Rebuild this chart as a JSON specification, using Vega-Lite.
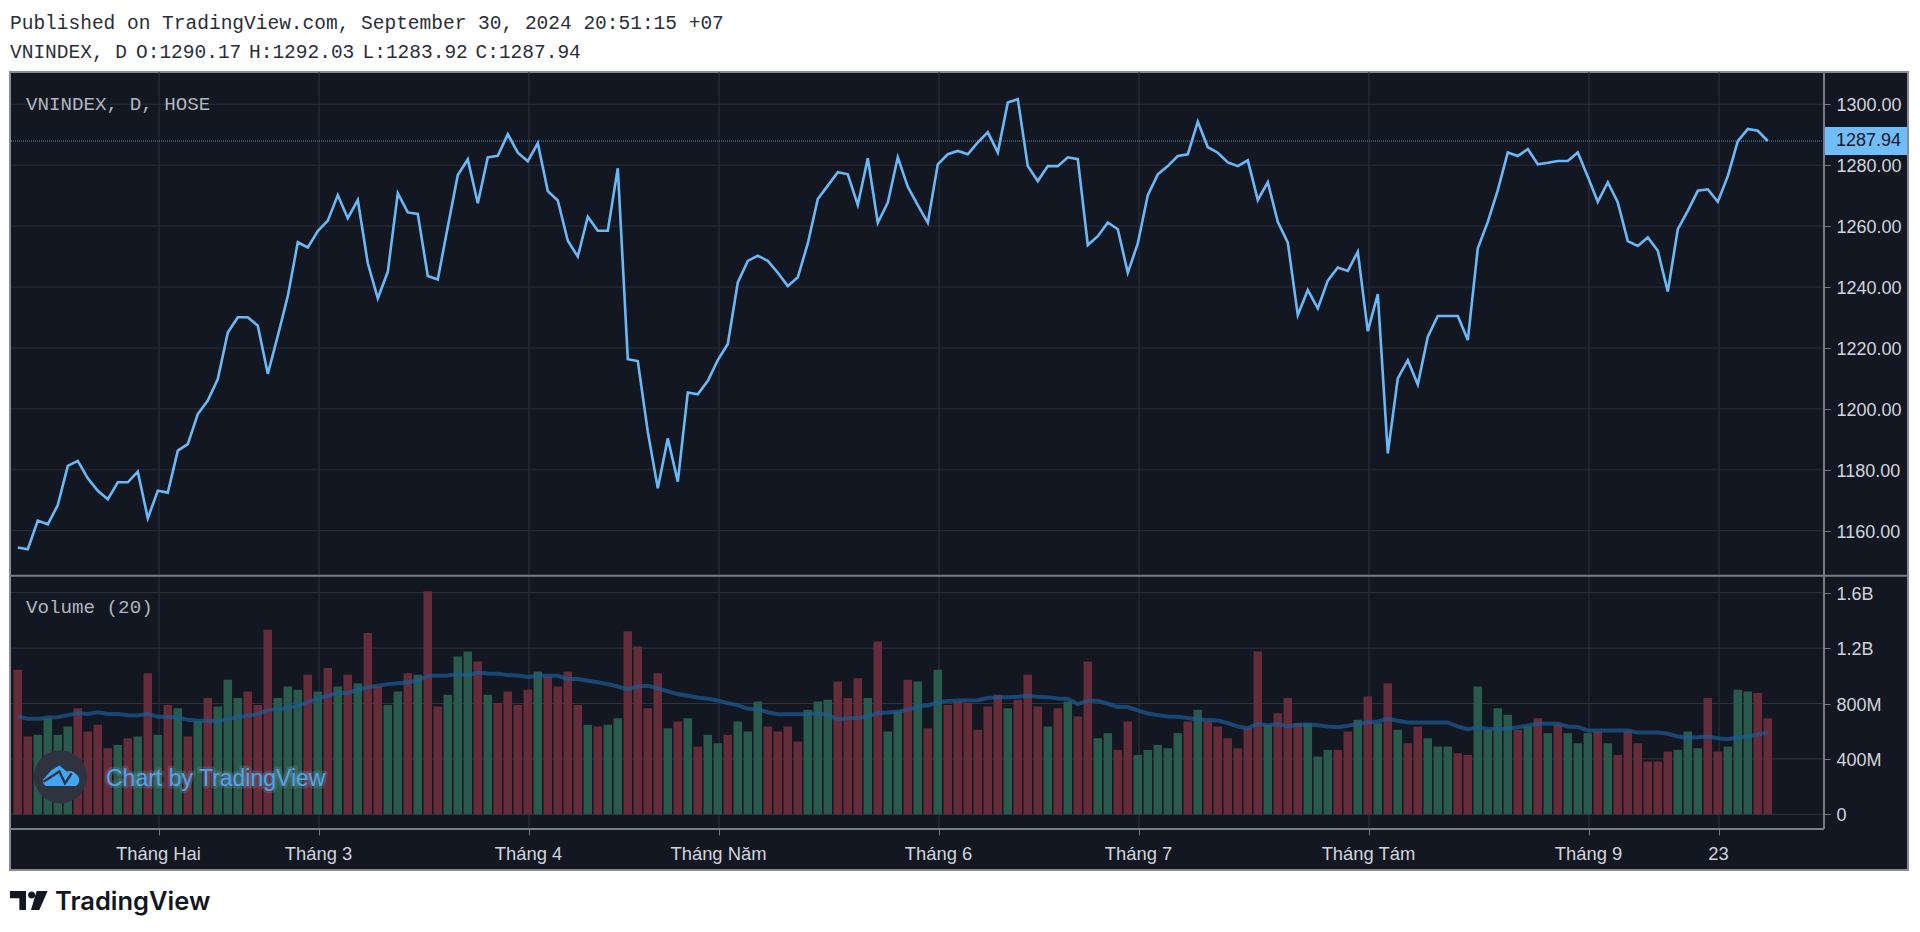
{"$schema":"https://vega.github.io/schema/vega-lite/v6.json","width":1920,"height":932,"autosize":{"type":"none"},"padding":0,"background":"#ffffff",
"datasets":{
"one":[{}],
"months":[{"i":14,"label":"Tháng Hai"},{"i":30,"label":"Tháng 3"},{"i":51,"label":"Tháng 4"},{"i":70,"label":"Tháng Năm"},{"i":92,"label":"Tháng 6"},{"i":112,"label":"Tháng 7"},{"i":135,"label":"Tháng Tám"},{"i":157,"label":"Tháng 9"},{"i":170,"label":"23"}],
"pgrid":[{"p":1160},{"p":1180},{"p":1200},{"p":1220},{"p":1240},{"p":1260},{"p":1280},{"p":1300}],
"vgrid":[{"v":0},{"v":400},{"v":800},{"v":1200},{"v":1600}],
"last":[{"p":1287.94,"t":"1287.94"}],
"rows":[
{"i":0,"close":1154.5,"vol":1044,"ma":706,"d":"down"},{"i":1,"close":1153.9,"vol":562,"ma":689,"d":"down"},{"i":2,"close":1163.3,"vol":574,"ma":689,"d":"up"},{"i":3,"close":1162.1,"vol":694,"ma":699,"d":"up"},{"i":4,"close":1168.4,"vol":574,"ma":701,"d":"up"},{"i":5,"close":1181.3,"vol":634,"ma":716,"d":"up"},{"i":6,"close":1182.9,"vol":766,"ma":730,"d":"down"},{"i":7,"close":1177.2,"vol":598,"ma":725,"d":"down"},{"i":8,"close":1173.1,"vol":646,"ma":737,"d":"down"},{"i":9,"close":1170.3,"vol":477,"ma":725,"d":"down"},
{"i":10,"close":1175.9,"vol":501,"ma":725,"d":"up"},{"i":11,"close":1175.9,"vol":549,"ma":716,"d":"down"},{"i":12,"close":1179.4,"vol":562,"ma":713,"d":"up"},{"i":13,"close":1164.1,"vol":1019,"ma":725,"d":"down"},{"i":14,"close":1173.1,"vol":574,"ma":704,"d":"up"},{"i":15,"close":1172.5,"vol":790,"ma":704,"d":"down"},{"i":16,"close":1186.3,"vol":766,"ma":699,"d":"up"},{"i":17,"close":1188.4,"vol":562,"ma":682,"d":"down"},{"i":18,"close":1198.3,"vol":670,"ma":675,"d":"up"},{"i":19,"close":1202.7,"vol":839,"ma":675,"d":"down"},
{"i":20,"close":1209.8,"vol":778,"ma":670,"d":"up"},{"i":21,"close":1225.1,"vol":971,"ma":689,"d":"up"},{"i":22,"close":1230.1,"vol":839,"ma":701,"d":"up"},{"i":23,"close":1230.1,"vol":887,"ma":711,"d":"down"},{"i":24,"close":1227.3,"vol":790,"ma":723,"d":"down"},{"i":25,"close":1211.5,"vol":1333,"ma":754,"d":"down"},{"i":26,"close":1224,"vol":839,"ma":759,"d":"up"},{"i":27,"close":1237,"vol":923,"ma":771,"d":"up"},{"i":28,"close":1254.7,"vol":899,"ma":783,"d":"up"},{"i":29,"close":1253,"vol":1007,"ma":810,"d":"down"},
{"i":30,"close":1258.4,"vol":887,"ma":834,"d":"up"},{"i":31,"close":1261.8,"vol":1056,"ma":856,"d":"down"},{"i":32,"close":1270.2,"vol":923,"ma":880,"d":"up"},{"i":33,"close":1262.6,"vol":1007,"ma":875,"d":"down"},{"i":34,"close":1268.6,"vol":947,"ma":899,"d":"up"},{"i":35,"close":1247.8,"vol":1309,"ma":918,"d":"down"},{"i":36,"close":1236.3,"vol":923,"ma":928,"d":"down"},{"i":37,"close":1245,"vol":790,"ma":940,"d":"up"},{"i":38,"close":1270.8,"vol":887,"ma":947,"d":"up"},{"i":39,"close":1264.5,"vol":1019,"ma":952,"d":"down"},
{"i":40,"close":1264,"vol":1007,"ma":966,"d":"up"},{"i":41,"close":1243.6,"vol":1610,"ma":1000,"d":"down"},{"i":42,"close":1242.5,"vol":778,"ma":1000,"d":"down"},{"i":43,"close":1259.8,"vol":863,"ma":1003,"d":"up"},{"i":44,"close":1276.8,"vol":1140,"ma":1012,"d":"up"},{"i":45,"close":1281.9,"vol":1176,"ma":1005,"d":"up"},{"i":46,"close":1267.5,"vol":1104,"ma":1024,"d":"down"},{"i":47,"close":1282.6,"vol":863,"ma":1017,"d":"up"},{"i":48,"close":1283.1,"vol":803,"ma":1015,"d":"down"},{"i":49,"close":1290.2,"vol":887,"ma":1005,"d":"down"},
{"i":50,"close":1284.1,"vol":790,"ma":1003,"d":"down"},{"i":51,"close":1281.3,"vol":899,"ma":991,"d":"down"},{"i":52,"close":1287.2,"vol":1031,"ma":1000,"d":"up"},{"i":53,"close":1271.5,"vol":995,"ma":1000,"d":"down"},{"i":54,"close":1268.4,"vol":923,"ma":1000,"d":"down"},{"i":55,"close":1255.2,"vol":1031,"ma":976,"d":"down"},{"i":56,"close":1250,"vol":790,"ma":976,"d":"down"},{"i":57,"close":1263.1,"vol":646,"ma":964,"d":"up"},{"i":58,"close":1258.5,"vol":634,"ma":954,"d":"down"},{"i":59,"close":1258.5,"vol":646,"ma":940,"d":"up"},
{"i":60,"close":1279,"vol":694,"ma":923,"d":"up"},{"i":61,"close":1216.3,"vol":1321,"ma":904,"d":"down"},{"i":62,"close":1215.7,"vol":1212,"ma":923,"d":"down"},{"i":63,"close":1192.5,"vol":766,"ma":928,"d":"down"},{"i":64,"close":1173.9,"vol":1019,"ma":911,"d":"down"},{"i":65,"close":1190.3,"vol":622,"ma":887,"d":"up"},{"i":66,"close":1176.1,"vol":670,"ma":868,"d":"down"},{"i":67,"close":1205.4,"vol":694,"ma":856,"d":"up"},{"i":68,"close":1204.8,"vol":489,"ma":844,"d":"down"},{"i":69,"close":1209.2,"vol":574,"ma":834,"d":"up"},
{"i":70,"close":1216,"vol":513,"ma":822,"d":"up"},{"i":71,"close":1221.3,"vol":574,"ma":803,"d":"down"},{"i":72,"close":1241.5,"vol":670,"ma":788,"d":"up"},{"i":73,"close":1248.6,"vol":598,"ma":762,"d":"up"},{"i":74,"close":1250.3,"vol":815,"ma":759,"d":"up"},{"i":75,"close":1248.6,"vol":634,"ma":737,"d":"down"},{"i":76,"close":1244.7,"vol":598,"ma":723,"d":"down"},{"i":77,"close":1240.3,"vol":634,"ma":723,"d":"down"},{"i":78,"close":1243.2,"vol":525,"ma":723,"d":"down"},{"i":79,"close":1254.3,"vol":754,"ma":725,"d":"up"},
{"i":80,"close":1268.9,"vol":815,"ma":730,"d":"up"},{"i":81,"close":1273.3,"vol":827,"ma":718,"d":"up"},{"i":82,"close":1277.7,"vol":959,"ma":687,"d":"down"},{"i":83,"close":1277,"vol":839,"ma":694,"d":"down"},{"i":84,"close":1266.9,"vol":983,"ma":696,"d":"down"},{"i":85,"close":1282.3,"vol":839,"ma":706,"d":"up"},{"i":86,"close":1261.1,"vol":1248,"ma":730,"d":"down"},{"i":87,"close":1267.7,"vol":598,"ma":735,"d":"up"},{"i":88,"close":1282.6,"vol":742,"ma":742,"d":"up"},{"i":89,"close":1272.9,"vol":971,"ma":754,"d":"down"},
{"i":90,"close":1266.9,"vol":959,"ma":778,"d":"up"},{"i":91,"close":1261.1,"vol":622,"ma":786,"d":"down"},{"i":92,"close":1280.3,"vol":1044,"ma":807,"d":"up"},{"i":93,"close":1283.6,"vol":790,"ma":819,"d":"down"},{"i":94,"close":1284.7,"vol":815,"ma":822,"d":"down"},{"i":95,"close":1283.6,"vol":803,"ma":822,"d":"down"},{"i":96,"close":1287.5,"vol":610,"ma":824,"d":"down"},{"i":97,"close":1290.8,"vol":778,"ma":839,"d":"down"},{"i":98,"close":1284.2,"vol":863,"ma":846,"d":"down"},{"i":99,"close":1300.6,"vol":766,"ma":846,"d":"up"},
{"i":100,"close":1301.7,"vol":827,"ma":848,"d":"down"},{"i":101,"close":1279.7,"vol":1007,"ma":856,"d":"down"},{"i":102,"close":1274.8,"vol":778,"ma":848,"d":"down"},{"i":103,"close":1279.7,"vol":634,"ma":846,"d":"up"},{"i":104,"close":1279.7,"vol":766,"ma":836,"d":"down"},{"i":105,"close":1282.6,"vol":815,"ma":834,"d":"up"},{"i":106,"close":1282,"vol":706,"ma":795,"d":"down"},{"i":107,"close":1253.8,"vol":1104,"ma":819,"d":"down"},{"i":108,"close":1256.7,"vol":549,"ma":819,"d":"up"},{"i":109,"close":1261.2,"vol":586,"ma":798,"d":"up"},
{"i":110,"close":1259,"vol":465,"ma":774,"d":"down"},{"i":111,"close":1244.7,"vol":670,"ma":774,"d":"down"},{"i":112,"close":1254.3,"vol":429,"ma":750,"d":"up"},{"i":113,"close":1270.2,"vol":465,"ma":728,"d":"up"},{"i":114,"close":1277,"vol":501,"ma":716,"d":"up"},{"i":115,"close":1279.7,"vol":477,"ma":706,"d":"up"},{"i":116,"close":1283,"vol":586,"ma":704,"d":"up"},{"i":117,"close":1283.6,"vol":670,"ma":696,"d":"down"},{"i":118,"close":1294.3,"vol":754,"ma":687,"d":"up"},{"i":119,"close":1285.9,"vol":670,"ma":680,"d":"down"},
{"i":120,"close":1284.1,"vol":634,"ma":677,"d":"down"},{"i":121,"close":1280.9,"vol":549,"ma":658,"d":"down"},{"i":122,"close":1279.7,"vol":477,"ma":634,"d":"down"},{"i":123,"close":1281.6,"vol":622,"ma":622,"d":"down"},{"i":124,"close":1268.6,"vol":1176,"ma":653,"d":"down"},{"i":125,"close":1274.4,"vol":646,"ma":643,"d":"up"},{"i":126,"close":1261.4,"vol":730,"ma":651,"d":"down"},{"i":127,"close":1254.6,"vol":839,"ma":634,"d":"down"},{"i":128,"close":1230.8,"vol":658,"ma":646,"d":"down"},{"i":129,"close":1239,"vol":658,"ma":648,"d":"up"},
{"i":130,"close":1233,"vol":417,"ma":643,"d":"up"},{"i":131,"close":1242.1,"vol":465,"ma":634,"d":"up"},{"i":132,"close":1246.4,"vol":465,"ma":629,"d":"down"},{"i":133,"close":1245.3,"vol":598,"ma":639,"d":"down"},{"i":134,"close":1251.6,"vol":682,"ma":653,"d":"up"},{"i":135,"close":1225.5,"vol":851,"ma":663,"d":"down"},{"i":136,"close":1237.7,"vol":658,"ma":670,"d":"up"},{"i":137,"close":1185.4,"vol":947,"ma":689,"d":"down"},{"i":138,"close":1210,"vol":610,"ma":675,"d":"up"},{"i":139,"close":1216,"vol":513,"ma":663,"d":"down"},
{"i":140,"close":1208,"vol":634,"ma":663,"d":"down"},{"i":141,"close":1223.7,"vol":549,"ma":663,"d":"up"},{"i":142,"close":1230.5,"vol":489,"ma":663,"d":"up"},{"i":143,"close":1230.5,"vol":489,"ma":663,"d":"up"},{"i":144,"close":1230.5,"vol":441,"ma":634,"d":"down"},{"i":145,"close":1222.6,"vol":429,"ma":615,"d":"down"},{"i":146,"close":1252.7,"vol":923,"ma":627,"d":"up"},{"i":147,"close":1261.4,"vol":610,"ma":617,"d":"up"},{"i":148,"close":1271.8,"vol":766,"ma":615,"d":"up"},{"i":149,"close":1284.2,"vol":718,"ma":617,"d":"up"},
{"i":150,"close":1283,"vol":610,"ma":629,"d":"down"},{"i":151,"close":1285.3,"vol":634,"ma":641,"d":"up"},{"i":152,"close":1280.3,"vol":694,"ma":653,"d":"down"},{"i":153,"close":1280.8,"vol":586,"ma":653,"d":"up"},{"i":154,"close":1281.4,"vol":646,"ma":653,"d":"down"},{"i":155,"close":1281.4,"vol":586,"ma":634,"d":"up"},{"i":156,"close":1284.2,"vol":513,"ma":631,"d":"up"},{"i":157,"close":1276.2,"vol":586,"ma":605,"d":"up"},{"i":158,"close":1268,"vol":598,"ma":605,"d":"down"},{"i":159,"close":1274.4,"vol":513,"ma":605,"d":"up"},
{"i":160,"close":1267.8,"vol":429,"ma":605,"d":"down"},{"i":161,"close":1255.1,"vol":598,"ma":605,"d":"down"},{"i":162,"close":1253.5,"vol":513,"ma":590,"d":"down"},{"i":163,"close":1256.3,"vol":381,"ma":590,"d":"down"},{"i":164,"close":1251.9,"vol":381,"ma":590,"d":"down"},{"i":165,"close":1238.5,"vol":453,"ma":581,"d":"down"},{"i":166,"close":1259,"vol":465,"ma":562,"d":"up"},{"i":167,"close":1265,"vol":598,"ma":552,"d":"up"},{"i":168,"close":1271.6,"vol":477,"ma":557,"d":"up"},{"i":169,"close":1272.1,"vol":839,"ma":562,"d":"down"},
{"i":170,"close":1268,"vol":453,"ma":549,"d":"down"},{"i":171,"close":1276.4,"vol":489,"ma":542,"d":"up"},{"i":172,"close":1287.9,"vol":899,"ma":554,"d":"up"},{"i":173,"close":1291.9,"vol":887,"ma":562,"d":"up"},{"i":174,"close":1291.3,"vol":875,"ma":576,"d":"down"},{"i":175,"close":1287.94,"vol":694,"ma":590,"d":"down"}
]},
"layer":[
{"data":{"name":"one"},"mark":{"type":"rect","fill":"#131722","stroke":"#8a8c93","strokeWidth":2},"encoding":{"x":{"value":10},"x2":{"value":1908},"y":{"value":72},"y2":{"value":870}}},
{"data":{"name":"one"},"mark":{"type":"text","font":"Liberation Mono","fontSize":19.5,"align":"left","baseline":"middle","color":"#2a2e39"},"encoding":{"x":{"value":10},"y":{"value":23},"text":{"value":"Published on TradingView.com, September 30, 2024 20:51:15 +07"}}},
{"data":{"name":"one"},"mark":{"type":"text","font":"Liberation Mono","fontSize":19.5,"align":"left","baseline":"middle","color":"#2a2e39"},"encoding":{"x":{"value":10},"y":{"value":52},"text":{"value":"VNINDEX, D"}}},
{"data":{"name":"one"},"mark":{"type":"text","font":"Liberation Mono","fontSize":19.5,"align":"left","baseline":"middle","color":"#2a2e39"},"encoding":{"x":{"value":136},"y":{"value":52},"text":{"value":"O:1290.17"}}},
{"data":{"name":"one"},"mark":{"type":"text","font":"Liberation Mono","fontSize":19.5,"align":"left","baseline":"middle","color":"#2a2e39"},"encoding":{"x":{"value":249},"y":{"value":52},"text":{"value":"H:1292.03"}}},
{"data":{"name":"one"},"mark":{"type":"text","font":"Liberation Mono","fontSize":19.5,"align":"left","baseline":"middle","color":"#2a2e39"},"encoding":{"x":{"value":362.5},"y":{"value":52},"text":{"value":"L:1283.92"}}},
{"data":{"name":"one"},"mark":{"type":"text","font":"Liberation Mono","fontSize":19.5,"align":"left","baseline":"middle","color":"#2a2e39"},"encoding":{"x":{"value":475.5},"y":{"value":52},"text":{"value":"C:1287.94"}}},
{"data":{"name":"months"},"mark":{"type":"rule","color":"#2f333e","strokeWidth":1},"encoding":{"x":{"field":"i","type":"quantitative","scale":{"domain":[0,175],"range":[19,1769],"nice":false,"padding":0,"zero":false},"axis":{"title":null,"orient":"bottom","offset":-103,"grid":false,"domain":false,"values":[14,30,51,70,92,112,135,157,170],"labelExpr":"{'14':'Tháng Hai','30':'Tháng 3','51':'Tháng 4','70':'Tháng Năm','92':'Tháng 6','112':'Tháng 7','135':'Tháng Tám','157':'Tháng 9','170':'23'}[datum.value]","labelFont":"Liberation Sans","labelFontSize":18.4,"labelColor":"#d1d4dc","labelPadding":9,"labelOffset":-1,"labelOverlap":false,"labelFlush":false,"tickColor":"#787b86","tickSize":6,"tickWidth":1,"zindex":1}},"y":{"value":72},"y2":{"value":829}}},
{"data":{"name":"pgrid"},"mark":{"type":"rule","color":"#2a2e39","strokeWidth":1},"encoding":{"x":{"value":11},"x2":{"value":1824},"y":{"field":"p","type":"quantitative","scale":{"domain":[1160,1300],"range":[530.7,104.3],"zero":false,"nice":false},"axis":{"title":null,"orient":"right","offset":-96,"grid":false,"domain":false,"values":[1160,1180,1200,1220,1240,1260,1280,1300],"format":".2f","labelFont":"Liberation Sans","labelFontSize":18,"labelColor":"#d1d4dc","labelPadding":6,"labelOffset":1.5,"labelOverlap":false,"labelFlush":false,"tickColor":"#787b86","tickSize":6,"zindex":1}}}},
{"data":{"name":"last"},"mark":{"type":"rule","color":"#5d93c2","strokeWidth":1,"strokeDash":[1,1]},"encoding":{"x":{"value":11},"x2":{"value":1824},"y":{"field":"p","type":"quantitative","scale":{"domain":[1160,1300],"range":[530.7,104.3],"zero":false,"nice":false},"axis":null}}},
{"data":{"name":"rows"},"mark":{"type":"line","color":"#6bb8f7","strokeWidth":2.6,"xOffset":-1.2,"strokeJoin":"miter"},"encoding":{"x":{"field":"i","type":"quantitative"},"y":{"field":"close","type":"quantitative","scale":{"domain":[1160,1300],"range":[530.7,104.3],"zero":false,"nice":false},"axis":null}}},
{"data":{"name":"last"},"mark":{"type":"rule","color":"#71bcfb","strokeWidth":28},"encoding":{"x":{"value":1825},"x2":{"value":1907},"y":{"field":"p","type":"quantitative","scale":{"domain":[1160,1300],"range":[530.7,104.3],"zero":false,"nice":false},"axis":null}}},
{"data":{"name":"last"},"mark":{"type":"text","font":"Liberation Sans","fontSize":18,"align":"left","baseline":"middle","color":"#131722"},"encoding":{"x":{"value":1836},"y":{"field":"p","type":"quantitative","scale":{"domain":[1160,1300],"range":[530.7,104.3],"zero":false,"nice":false},"axis":null},"text":{"field":"t"}}},
{"data":{"name":"vgrid"},"mark":{"type":"rule","color":"#2f333e","strokeWidth":1},"encoding":{"x":{"value":11},"x2":{"value":1824},"y":{"field":"v","type":"quantitative","scale":{"domain":[0,1600],"range":[814.3,592.7],"nice":false},"axis":{"title":null,"orient":"right","offset":-96,"grid":false,"domain":false,"values":[0,400,800,1200,1600],"labelExpr":"datum.value==0?'0':datum.value<1000?datum.value+'M':(datum.value/1000)+'B'","labelFont":"Liberation Sans","labelFontSize":18,"labelColor":"#d1d4dc","labelPadding":6,"labelOffset":1.5,"labelOverlap":false,"labelFlush":false,"tickColor":"#787b86","tickSize":6,"zindex":1}}}},
{"data":{"name":"rows"},"mark":{"type":"bar","size":8.5,"xOffset":-1.2},"encoding":{"x":{"field":"i","type":"quantitative"},"y":{"field":"vol","type":"quantitative","scale":{"domain":[0,1600],"range":[814.3,592.7],"nice":false},"axis":null},"color":{"field":"d","type":"nominal","scale":{"domain":["up","down"],"range":["#2a5a4b","#652c39"]},"legend":null}}},
{"data":{"name":"rows"},"mark":{"type":"line","color":"#1c5a94","strokeWidth":4,"opacity":0.72,"xOffset":-1.2},"encoding":{"x":{"field":"i","type":"quantitative"},"y":{"field":"ma","type":"quantitative","scale":{"domain":[0,1600],"range":[814.3,592.7],"nice":false},"axis":null}}},
{"data":{"name":"one"},"mark":{"type":"rule","color":"#787b86","strokeWidth":2},"encoding":{"x":{"value":10},"x2":{"value":1908},"y":{"value":575.7}}},
{"data":{"name":"one"},"mark":{"type":"rule","color":"#787b86","strokeWidth":2},"encoding":{"x":{"value":10},"x2":{"value":1824},"y":{"value":829}}},
{"data":{"name":"one"},"mark":{"type":"rule","color":"#787b86","strokeWidth":2},"encoding":{"x":{"value":1824},"y":{"value":72},"y2":{"value":829}}},
{"data":{"name":"one"},"mark":{"type":"text","font":"Liberation Mono","fontSize":19.2,"align":"left","baseline":"middle","color":"#b2b5be"},"encoding":{"x":{"value":26},"y":{"value":104},"text":{"value":"VNINDEX, D, HOSE"}}},
{"data":{"name":"one"},"mark":{"type":"text","font":"Liberation Mono","fontSize":19.2,"align":"left","baseline":"middle","color":"#b2b5be"},"encoding":{"x":{"value":26},"y":{"value":607},"text":{"value":"Volume (20)"}}},
{"data":{"name":"one"},"mark":{"type":"point","filled":true,"size":2809,"shape":"circle","color":"#2f3340","opacity":1},"encoding":{"x":{"value":60.4},"y":{"value":776.7}}},
{"data":{"name":"one"},"mark":{"type":"point","filled":true,"size":1340,"opacity":1,"color":"#42a5f0","shape":"M-1,0.22 L-0.51,-0.33 L-0.09,-0.58 L0.31,-0.24 L0.49,-0.27 C0.65,-0.27 0.76,-0.15 0.76,-0.15 C0.95,-0.05 1,0.1 1,0.22 C1,0.4 0.9,0.55 0.75,0.55 L-0.75,0.55 C-0.9,0.55 -1,0.4 -1,0.22Z"},"encoding":{"x":{"value":61},"y":{"value":776}}},
{"data":{"name":"one"},"mark":{"type":"point","filled":false,"size":1340,"opacity":1,"color":"#2f3340","strokeWidth":2.4,"shape":"M-0.96,0.31 L-0.09,-0.24 L0.22,0.4 L0.58,-0.15"},"encoding":{"x":{"value":61},"y":{"value":776}}},
{"data":{"name":"one"},"mark":{"type":"text","font":"Liberation Sans","fontSize":23,"align":"left","baseline":"middle","stroke":"#7a8a96","strokeWidth":5,"strokeOpacity":0.3,"strokeJoin":"round","fill":"#7a8a96","fillOpacity":0.3},"encoding":{"x":{"value":106},"y":{"value":779},"text":{"value":"Chart by TradingView"}}},
{"data":{"name":"one"},"mark":{"type":"text","font":"Liberation Sans","fontSize":23,"align":"left","baseline":"middle","color":"#4aa5ef"},"encoding":{"x":{"value":106},"y":{"value":779},"text":{"value":"Chart by TradingView"}}},
{"data":{"name":"one"},"mark":{"type":"point","filled":true,"size":1421,"opacity":1,"color":"#131722","shape":"M-1,-0.5 H-0.15 V0.5 H-0.5 V-0.115 H-1 Z M0.34,-0.29 A0.19,0.19 0 1 1 -0.04,-0.29 A0.19,0.19 0 1 1 0.34,-0.29 Z M0.416,-0.5 H1 L0.557,0.5 H0.115 Z"},"encoding":{"x":{"value":28.8},"y":{"value":900.5}}},
{"data":{"name":"one"},"mark":{"type":"text","font":"Inter","fontWeight":600,"fontSize":25.5,"align":"left","baseline":"middle","color":"#131722"},"encoding":{"x":{"value":55},"y":{"value":902},"text":{"value":"TradingView"}}}
],
"resolve":{"scale":{"y":"independent"},"axis":{"y":"independent"}},
"config":{"view":{"stroke":null}}
}
